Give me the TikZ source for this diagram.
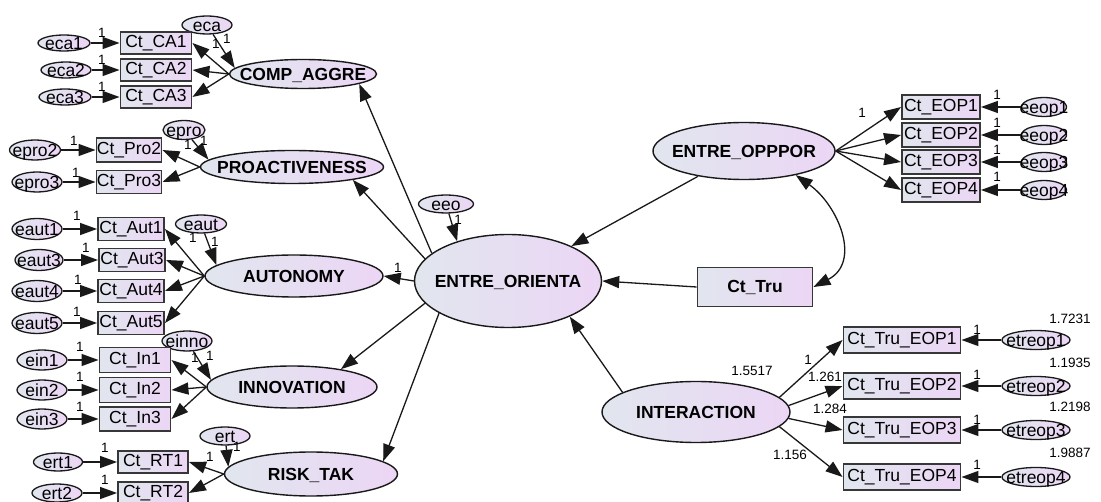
\documentclass[tikz,border=0pt]{standalone}
\usepackage{fontspec}
\setmainfont{Liberation Sans}
\usepackage{tikz}
\usetikzlibrary{arrows.meta, shapes.geometric}
\definecolor{ShadeLeft}{RGB}{225,230,238}
\definecolor{ShadeRight}{RGB}{236,214,245}
\definecolor{EdgeColor}{RGB}{25,25,25}
\definecolor{BoxEdge}{RGB}{55,55,55}
% text centred on an oval without widening it
\newcommand{\ovaltext}[1]{\makebox[0pt]{\raisebox{-0.36em}[0pt][0pt]{#1}}}
\tikzset{
  latent/.style={ellipse, draw=EdgeColor, line width=1.4pt, left color=ShadeLeft, right color=ShadeRight, inner sep=0pt, font=\fontsize{17.5}{19}\selectfont\bfseries},
  error term/.style={ellipse, draw=EdgeColor, line width=1.3pt, left color=ShadeLeft, right color=ShadeRight, inner sep=0pt, minimum width=50pt, minimum height=18pt, font=\fontsize{17.5}{19}\selectfont},
  observed/.style={rectangle, draw=BoxEdge, line width=1.9pt, left color=ShadeLeft, right color=ShadeRight, inner sep=0pt, minimum height=23pt, font=\fontsize{17.5}{19}\selectfont},
  path arrow/.style={-{Triangle[length=17pt,width=12pt]}, line width=1.3pt, EdgeColor},
  covariance/.style={{Triangle[length=17pt,width=12pt]}-{Triangle[length=17pt,width=12pt]}, line width=1.3pt, EdgeColor},
  weight/.style={font=\fontsize{13.5}{15}\selectfont, inner sep=0pt}
}

\begin{document}
\begin{tikzpicture}[x=1pt, y=-1pt]
  \useasboundingbox (0,0) rectangle (1101,502);

  % COMP_AGGRE block
  \node[latent, minimum width=147pt, minimum height=29pt] (compaggre) at (303,74) {\ovaltext{COMP\_AGGRE}};
  \node[error term] (eca) at (207,25) {\ovaltext{eca}};
  \node[observed, minimum width=71pt, minimum height=22pt] (ctca1) at (156,43) {Ct\_CA1};
  \node[observed, minimum width=71pt, minimum height=22pt] (ctca2) at (156,70) {Ct\_CA2};
  \node[observed, minimum width=71pt, minimum height=22pt] (ctca3) at (156,97) {Ct\_CA3};
  \node[error term, minimum width=52pt, minimum height=16pt] (eca1) at (64,43) {\ovaltext{eca1}};
  \node[error term, minimum width=50pt, minimum height=16pt] (eca2) at (66,70) {\ovaltext{eca2}};
  \node[error term, minimum width=52pt, minimum height=16pt] (eca3) at (65,97) {\ovaltext{eca3}};
  \draw[path arrow] (eca1) -- (ctca1);
  \draw[path arrow] (eca2) -- (ctca2);
  \draw[path arrow] (eca3) -- (ctca3);
  \draw[path arrow] (compaggre.west) -- (ctca1.east);
  \draw[path arrow] (compaggre.west) -- (ctca2.east);
  \draw[path arrow] (compaggre.west) -- (ctca3.east);
  \draw[path arrow] (eca) -- (compaggre.175);
  \node[weight] (w_eca1) at (102,33) {1};
  \node[weight] (w_eca2) at (102,60) {1};
  \node[weight] (w_eca3) at (102,87) {1};
  \node[weight] (w_ca1) at (216,44) {1};
  \node[weight] (w_eca) at (227,39) {1};

  % PROACTIVENESS block
  \node[latent, minimum width=183pt, minimum height=33pt] (proactive) at (292,167) {\ovaltext{PROACTIVENESS}};
  \node[error term, minimum width=42pt, minimum height=19pt] (epro) at (184,130) {\ovaltext{epro}};
  \node[observed, minimum width=65pt, minimum height=24pt] (ctpro2) at (129,150) {Ct\_Pro2};
  \node[observed, minimum width=65pt, minimum height=23pt] (ctpro3) at (129,182) {Ct\_Pro3};
  \node[error term, minimum width=51pt, minimum height=20pt] (epro2) at (35,150) {\ovaltext{epro2}};
  \node[error term, minimum width=50pt, minimum height=20pt] (epro3) at (37,182) {\ovaltext{epro3}};
  \draw[path arrow] (epro2) -- (ctpro2);
  \draw[path arrow] (epro3) -- (ctpro3);
  \draw[path arrow] (proactive.west) -- (ctpro2.east);
  \draw[path arrow] (proactive.west) -- (ctpro3.east);
  \draw[path arrow] (epro) -- (proactive.175);
  \node[weight] (w_epro2) at (74,141) {1};
  \node[weight] (w_epro3) at (76,173) {1};
  \node[weight] (w_pro2) at (188,145) {1};
  \node[weight] (w_epro) at (204,141) {1};

  % AUTONOMY block
  \node[latent, minimum width=178pt, minimum height=42pt] (autonomy) at (294,276) {\ovaltext{AUTONOMY}};
  \node[error term, minimum width=51pt, minimum height=18pt] (eaut) at (201,224) {\ovaltext{eaut}};
  \node[observed, minimum width=66pt] (ctaut1) at (131,229) {Ct\_Aut1};
  \node[observed, minimum width=66pt] (ctaut3) at (132,260) {Ct\_Aut3};
  \node[observed, minimum width=66pt] (ctaut4) at (131,291) {Ct\_Aut4};
  \node[observed, minimum width=66pt] (ctaut5) at (131,323) {Ct\_Aut5};
  \node[error term, minimum width=50pt, minimum height=21pt] (eaut1) at (37,229) {\ovaltext{eaut1}};
  \node[error term, minimum width=48pt, minimum height=21pt] (eaut3) at (39,260) {\ovaltext{eaut3}};
  \node[error term, minimum width=50pt, minimum height=21pt] (eaut4) at (37,291) {\ovaltext{eaut4}};
  \node[error term, minimum width=50pt, minimum height=21pt] (eaut5) at (37,323) {\ovaltext{eaut5}};
  \draw[path arrow] (eaut1) -- (ctaut1);
  \draw[path arrow] (eaut3) -- (ctaut3);
  \draw[path arrow] (eaut4) -- (ctaut4);
  \draw[path arrow] (eaut5) -- (ctaut5);
  \draw[path arrow] (autonomy.west) -- (ctaut1.east);
  \draw[path arrow] (autonomy.west) -- (ctaut3.east);
  \draw[path arrow] (autonomy.west) -- (ctaut4.east);
  \draw[path arrow] (autonomy.west) -- (ctaut5.east);
  \draw[path arrow] (eaut) -- (autonomy.172);
  \node[weight] (w_eaut1) at (77,216) {1};
  \node[weight] (w_eaut3) at (86,248) {1};
  \node[weight] (w_eaut4) at (78,280) {1};
  \node[weight] (w_eaut5) at (77,312) {1};
  \node[weight] (w_aut1) at (193,238) {1};
  \node[weight] (w_eaut) at (215,242) {1};

  % INNOVATION block
  \node[latent, minimum width=170pt, minimum height=42pt] (innovation) at (292,387) {\ovaltext{INNOVATION}};
  \node[error term, minimum width=50pt, minimum height=20pt] (einno) at (187,341) {\ovaltext{einno}};
  \node[observed, minimum width=71pt, minimum height=25pt] (ctin1) at (135,360) {Ct\_In1};
  \node[observed, minimum width=71pt, minimum height=25pt] (ctin2) at (135,390) {Ct\_In2};
  \node[observed, minimum width=71pt, minimum height=24pt] (ctin3) at (135,419) {Ct\_In3};
  \node[error term, minimum width=50pt, minimum height=20pt] (ein1) at (42,360) {\ovaltext{ein1}};
  \node[error term, minimum width=50pt, minimum height=20pt] (ein2) at (42,390) {\ovaltext{ein2}};
  \node[error term, minimum width=50pt, minimum height=20pt] (ein3) at (42,419) {\ovaltext{ein3}};
  \draw[path arrow] (ein1) -- (ctin1);
  \draw[path arrow] (ein2) -- (ctin2);
  \draw[path arrow] (ein3) -- (ctin3);
  \draw[path arrow] (innovation.west) -- (ctin1.east);
  \draw[path arrow] (innovation.west) -- (ctin2.east);
  \draw[path arrow] (innovation.west) -- (ctin3.east);
  \draw[path arrow] (einno) -- (innovation.175);
  \node[weight] (w_ein1) at (80,347) {1};
  \node[weight] (w_ein2) at (80,377) {1};
  \node[weight] (w_ein3) at (80,407) {1};
  \node[weight] (w_in1) at (195,358) {1};
  \node[weight] (w_einno) at (210,356) {1};

  % RISK_TAK block
  \node[latent, minimum width=173pt, minimum height=44pt] (risktak) at (311,474) {\ovaltext{RISK\_TAK}};
  \node[error term, minimum width=50pt, minimum height=18pt] (ert) at (225,436) {\ovaltext{ert}};
  \node[observed, minimum width=70pt, minimum height=22pt] (ctrt1) at (153,462) {Ct\_RT1};
  \node[observed, minimum width=70pt, minimum height=22pt] (ctrt2) at (153,493) {Ct\_RT2};
  \node[error term, minimum width=49pt, minimum height=18pt] (ert1) at (58,462) {\ovaltext{ert1}};
  \node[error term, minimum width=50pt, minimum height=18pt] (ert2) at (57,493) {\ovaltext{ert2}};
  \draw[path arrow] (ert1) -- (ctrt1);
  \draw[path arrow] (ert2) -- (ctrt2);
  \draw[path arrow] (risktak.west) -- (ctrt1.east);
  \draw[path arrow] (risktak.west) -- (ctrt2.east);
  \draw[path arrow] (ert) -- (risktak.175);
  \node[weight] (w_ert1) at (105,448) {1};
  \node[weight] (w_ert2) at (105,480) {1};
  \node[weight] (w_rt1) at (210,457) {1};
  \node[weight] (w_ert) at (237,447) {1};

  % ENTRE_ORIENTA and its dimensions
  \node[latent, minimum width=187pt, minimum height=93pt] (entreorienta) at (508,281) {\ovaltext{ENTRE\_ORIENTA}};
  \node[error term, minimum width=55pt, minimum height=18pt] (eeo) at (446,204) {\ovaltext{eeo}};
  \draw[path arrow] (eeo) -- (entreorienta.142);
  \draw[path arrow] (entreorienta.160) -- (compaggre.-10);
  \draw[path arrow] (entreorienta.165) -- (proactive.-12);
  \draw[path arrow] (entreorienta.west) -- (autonomy.east);
  \draw[path arrow] (entreorienta.195) -- (innovation.20);
  \draw[path arrow] (entreorienta.205) -- (risktak.10);
  \node[weight] (w_aut) at (398,268) {1};
  \node[weight] (w_eeo) at (458,220) {1};

  % ENTRE_OPPPOR block
  \node[latent, minimum width=182pt, minimum height=57pt] (entreoppor) at (744,151) {\ovaltext{ENTRE\_OPPPOR}};
  \node[observed, minimum width=78pt, minimum height=24pt] (cteop1) at (941,107) {Ct\_EOP1};
  \node[observed, minimum width=78pt, minimum height=24pt] (cteop2) at (941,135) {Ct\_EOP2};
  \node[observed, minimum width=78pt, minimum height=24pt] (cteop3) at (941,162) {Ct\_EOP3};
  \node[observed, minimum width=78pt, minimum height=24pt] (cteop4) at (941,190) {Ct\_EOP4};
  \node[error term, minimum width=45pt, minimum height=19pt] (eeop1) at (1044,107) {\ovaltext{eeop1}};
  \node[error term, minimum width=45pt, minimum height=19pt] (eeop2) at (1044,135) {\ovaltext{eeop2}};
  \node[error term, minimum width=45pt, minimum height=19pt] (eeop3) at (1044,162) {\ovaltext{eeop3}};
  \node[error term, minimum width=45pt, minimum height=19pt] (eeop4) at (1044,190) {\ovaltext{eeop4}};
  \draw[path arrow] (entreoppor.east) -- (cteop1.west);
  \draw[path arrow] (entreoppor.east) -- (cteop2.west);
  \draw[path arrow] (entreoppor.east) -- (cteop3.west);
  \draw[path arrow] (entreoppor.east) -- (cteop4.west);
  \draw[path arrow] (eeop1) -- (cteop1);
  \draw[path arrow] (eeop2) -- (cteop2);
  \draw[path arrow] (eeop3) -- (cteop3);
  \draw[path arrow] (eeop4) -- (cteop4);
  \node[weight] (w_eop1) at (862,113) {1};
  \node[weight] (w_eeop1) at (997,95) {1};
  \node[weight] (w_eeop2) at (997,123) {1};
  \node[weight] (w_eeop3) at (997,150) {1};
  \node[weight] (w_eeop4) at (997,177) {1};

  % Ct_Tru and the covariance
  \node[observed, minimum width=115pt, minimum height=39pt, font=\fontsize{17.5}{19}\selectfont\bfseries] (cttru) at (755,287) {Ct\_Tru};
  \draw[path arrow] (entreoppor) -- (entreorienta);
  \draw[path arrow] (cttru.west) -- (entreorienta.east);
  \draw[covariance] (entreoppor.-25) .. controls (838,205) and (862,262) .. (cttru.east);

  % INTERACTION block
  \node[latent, minimum width=188pt, minimum height=61pt] (interaction) at (696,412) {\ovaltext{INTERACTION}};
  \node[observed, minimum width=117pt, minimum height=26pt] (ctte1) at (902,340) {Ct\_Tru\_EOP1};
  \node[observed, minimum width=117pt, minimum height=26pt] (ctte2) at (902,386) {Ct\_Tru\_EOP2};
  \node[observed, minimum width=117pt, minimum height=26pt] (ctte3) at (902,430) {Ct\_Tru\_EOP3};
  \node[observed, minimum width=117pt, minimum height=26pt] (ctte4) at (902,477) {Ct\_Tru\_EOP4};
  \node[error term, minimum width=68pt, minimum height=19pt] (etreop1) at (1036,340) {\ovaltext{etreop1}};
  \node[error term, minimum width=68pt, minimum height=19pt] (etreop2) at (1036,386) {\ovaltext{etreop2}};
  \node[error term, minimum width=68pt, minimum height=19pt] (etreop3) at (1036,430) {\ovaltext{etreop3}};
  \node[error term, minimum width=68pt, minimum height=19pt] (etreop4) at (1036,477) {\ovaltext{etreop4}};
  \draw[path arrow] (interaction.165) -- (entreorienta.-30);
  \draw[path arrow] (interaction.10) -- (ctte1.west);
  \draw[path arrow] (interaction.4) -- (ctte2.west);
  \draw[path arrow] (interaction.-4) -- (ctte3.west);
  \draw[path arrow] (interaction.-10) -- (ctte4.west);
  \draw[path arrow] (etreop1) -- (ctte1);
  \draw[path arrow] (etreop2) -- (ctte2);
  \draw[path arrow] (etreop3) -- (ctte3);
  \draw[path arrow] (etreop4) -- (ctte4);
  \node[weight] (w_int) at (752,371) {1.5517};
  \node[weight] (w_te1) at (808,360) {1};
  \node[weight] (w_te2) at (825,377) {1.261};
  \node[weight] (w_te3) at (830,409) {1.284};
  \node[weight] (w_te4) at (790,455) {1.156};
  \node[weight] (w_etr1) at (977,330) {1};
  \node[weight] (w_etr2) at (977,375) {1};
  \node[weight] (w_etr3) at (977,420) {1};
  \node[weight] (w_etr4) at (977,465) {1};
  \node[weight] (v_etr1) at (1070,319) {1.7231};
  \node[weight] (v_etr2) at (1070,363) {1.1935};
  \node[weight] (v_etr3) at (1070,407) {1.2198};
  \node[weight] (v_etr4) at (1070,453) {1.9887};
\end{tikzpicture}
\end{document}
